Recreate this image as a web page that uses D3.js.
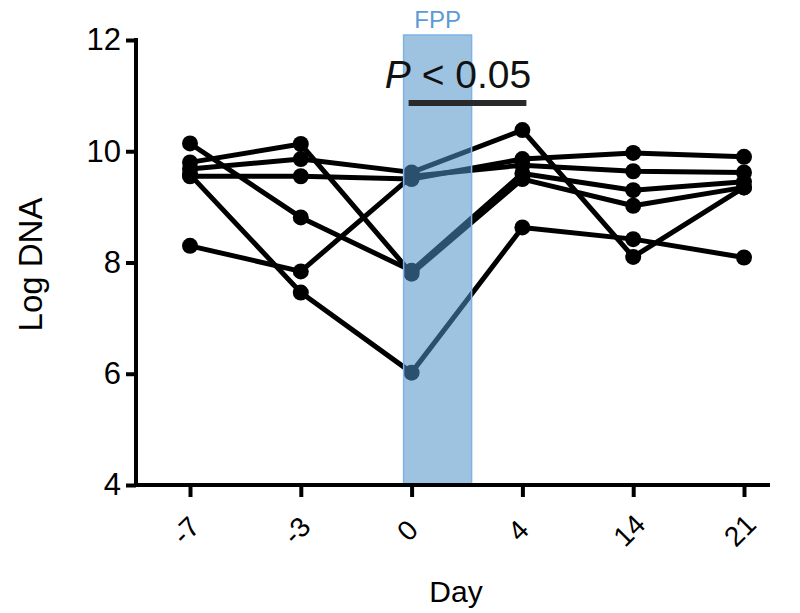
<!DOCTYPE html>
<html>
<head>
<meta charset="utf-8">
<script src="https://cdn.jsdelivr.net/npm/d3@7"></script>
<style>
  html, body { margin: 0; padding: 0; background: #fff; }
  svg { display: block; font-family: "Liberation Sans", Arial, sans-serif; }
</style>
</head>
<body>
<svg id="chart" width="800" height="613"></svg>
<script>
// ---- data ----
const days = ["-7", "-3", "0", "4", "14", "21"];
const subject1 = [10.14, 8.81, 7.85, 9.60, 9.30, 9.45];
const subject2 = [9.80, 10.13, 7.80, 9.50, 9.02, 9.35];
const subject3 = [9.68, 9.86, 9.62, 10.38, 8.10, 9.35];
const subject4 = [9.55, 9.55, 9.50, 9.86, 9.97, 9.90];
const subject5 = [9.58, 7.46, 6.02, 8.63, 8.42, 8.09];
const subject6 = [8.30, 7.84, 9.55, 9.75, 9.64, 9.62];
const series = [subject1, subject2, subject3, subject4, subject5, subject6];
const yTicks = [4, 6, 8, 10, 12];
const bandDay = "0";
const bandLabel = "FPP";
const sigStart = "0", sigEnd = "4";

// ---- layout ----
const svg = d3.select("#chart");
const x = d3.scalePoint().domain(days).range([190, 744]);
const y = d3.scaleLinear().domain([4, 12]).range([485, 40]);
const axisLeftX = 136, axisRightX = 770;
const FONT = "Liberation Sans, Arial, sans-serif";

const lineGen = d3.line().x((d, i) => x(days[i])).y(d => y(d));

// lines and points
const g = svg.append("g");
series.forEach(s => {
  g.append("path").datum(s).attr("d", lineGen)
    .attr("fill", "none").attr("stroke", "#000").attr("stroke-width", 5)
    .attr("stroke-linejoin", "round");
});
series.forEach(s => {
  g.selectAll(null).data(s).enter().append("circle")
    .attr("cx", (d, i) => x(days[i])).attr("cy", d => y(d)).attr("r", 8)
    .attr("fill", "#000");
});

// shaded band (drawn on top, translucent)
const bx0 = x(bandDay) - 8;
const bx1 = x(bandDay) + 60;
svg.append("rect")
  .attr("x", bx0).attr("y", y(12) - 5)
  .attr("width", bx1 - bx0).attr("height", y(4) - y(12) + 5)
  .attr("fill", "rgb(79,145,198)").attr("fill-opacity", 0.55)
  .attr("stroke", "#7fb3e3").attr("stroke-width", 1.5);
svg.append("text").attr("x", (bx0 + bx1) / 2).attr("y", 28)
  .attr("text-anchor", "middle").attr("font-size", 24).attr("font-family", FONT)
  .attr("fill", "#5b9bd5").text(bandLabel);

// y axis
const yAxis = d3.axisLeft(y).tickValues(yTicks).tickSize(10).tickPadding(5);
const ya = svg.append("g").attr("transform", `translate(${axisLeftX},0)`).call(yAxis);
ya.attr("font-size", null).attr("font-family", null);
ya.select(".domain").attr("d", `M0,${y(12) - 2}V${y(4)}`).attr("stroke-width", 4).attr("stroke", "#000");
ya.selectAll(".tick line").attr("stroke-width", 4).attr("stroke", "#000");
ya.selectAll(".tick text").style("font-size", "31px").attr("fill", "#000")
  .style("font-family", FONT);

// x axis
const xAxis = d3.axisBottom(x).tickSize(12).tickPadding(8);
const xa = svg.append("g").attr("transform", `translate(0,${y(4)})`).call(xAxis);
xa.attr("font-size", null).attr("font-family", null);
xa.select(".domain").attr("d", `M${axisLeftX - 2},0H${axisRightX}`).attr("stroke-width", 4).attr("stroke", "#000");
xa.selectAll(".tick line").attr("stroke-width", 4).attr("stroke", "#000");
xa.selectAll(".tick text")
  .style("font-size", "28px").attr("fill", "#000")
  .style("font-family", FONT)
  .attr("text-anchor", "middle").attr("dy", null).attr("y", null)
  .attr("transform", "translate(-3,47) rotate(-45)")
  .attr("dominant-baseline", "middle");

// axis titles
svg.append("text").attr("transform", `translate(42,${(y(12) + y(4)) / 2 + 2}) rotate(-90)`)
  .attr("text-anchor", "middle").attr("font-size", 33).attr("font-family", FONT)
  .attr("fill", "#000").text("Log DNA");
svg.append("text").attr("x", 456).attr("y", 602)
  .attr("text-anchor", "middle").attr("font-size", 30).attr("font-family", FONT)
  .attr("fill", "#000").text("Day");

// significance annotation
const sx0 = x(sigStart) - 3, sx1 = x(sigEnd) + 4;
svg.append("line").attr("x1", sx0).attr("x2", sx1).attr("y1", 103).attr("y2", 103)
  .attr("stroke", "#2a2a2a").attr("stroke-width", 6);
const pt = svg.append("text").attr("x", 458).attr("y", 88)
  .attr("text-anchor", "middle").attr("font-size", 39).attr("font-family", FONT)
  .attr("fill", "#111");
pt.append("tspan").attr("font-style", "italic").text("P");
pt.append("tspan").text(" < 0.05");
</script>
</body>
</html>
